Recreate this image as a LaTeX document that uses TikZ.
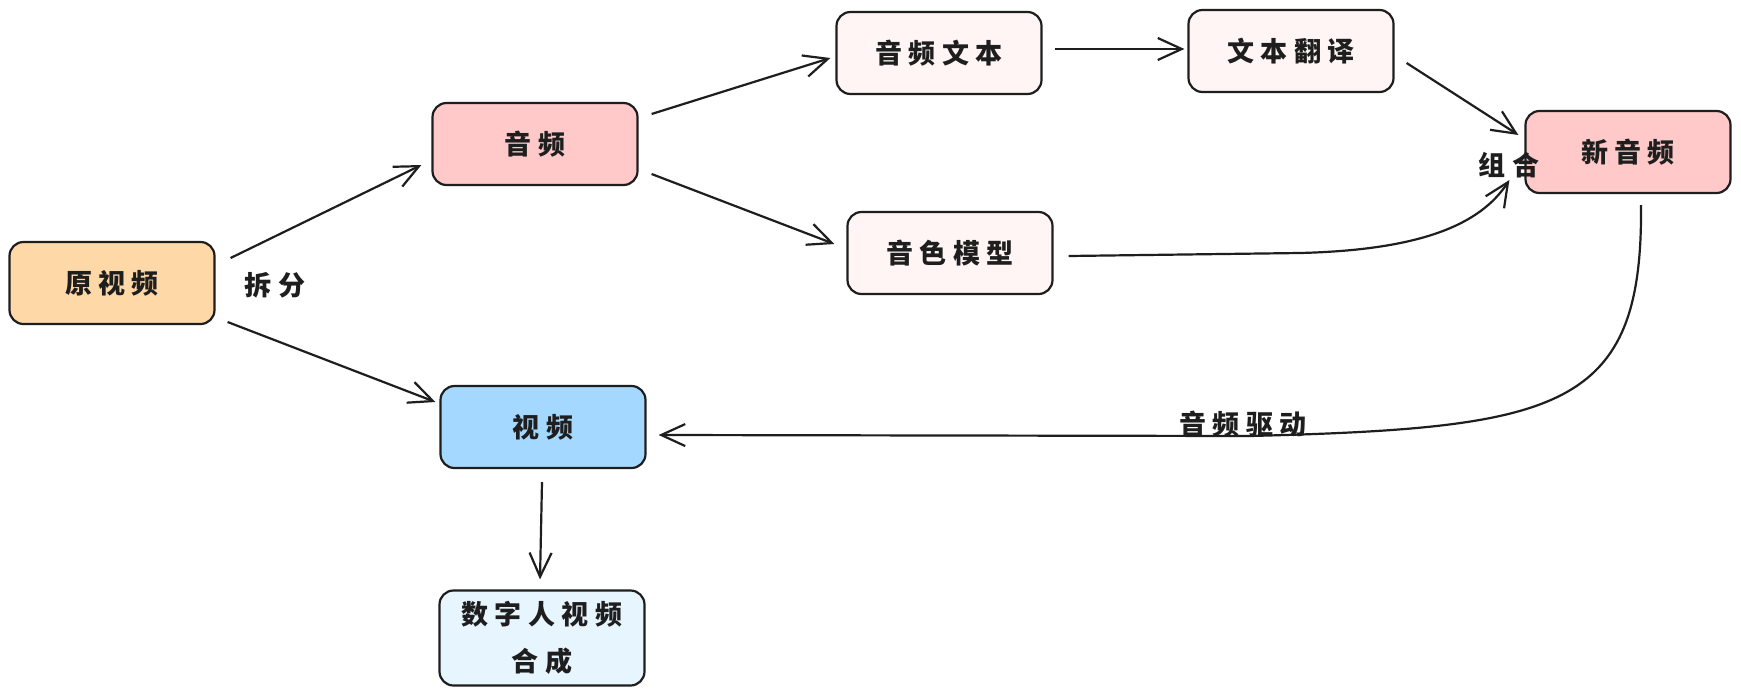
\documentclass[tikz,border=0pt]{standalone}
\usepackage{fontspec}
\setmainfont{Noto Sans CJK SC}[LetterSpace=24]
\usetikzlibrary{arrows.meta}
\definecolor{ink}{HTML}{1E1E1E}
\definecolor{orangefill}{HTML}{FFD8A8}
\definecolor{redfill}{HTML}{FFC9C9}
\definecolor{palered}{HTML}{FFF5F5}
\definecolor{bluefill}{HTML}{A5D8FF}
\definecolor{paleblue}{HTML}{E7F5FF}
\begin{document}
\begin{tikzpicture}[x=1pt,y=-1pt,
  box/.style={draw=ink, line width=2.2pt, rounded corners=14pt, minimum width=205pt, minimum height=82pt, inner sep=0pt, align=center, font=\fontsize{27}{47}\selectfont\bfseries, text=ink},
  lbl/.style={font=\fontsize{27}{32}\selectfont\bfseries, text=ink, inner sep=0pt},
  conn/.style={draw=ink, line width=2.2pt, -{Straight Barb[length=24pt,width=22pt,line width=2.2pt]}}]
\fill[white] (0,0) rectangle (1741,697);
\useasboundingbox (0,0) rectangle (1741,697);

\node[box, fill=orangefill] (ov) at (112,283) {原视频};
\node[box, fill=redfill] (au) at (535,144) {音频};
\node[box, fill=palered] (at) at (939,53) {音频文本};
\node[box, fill=palered] (tt) at (1291,51) {文本翻译};
\node[box, fill=redfill] (na) at (1628,152) {新音频};
\node[box, fill=palered] (tm) at (950,253) {音色模型};
\node[box, fill=bluefill] (vd) at (543,427) {视频};
\node[box, fill=paleblue, minimum height=95pt] (dh) at (542,638) {数字人视频\\合成};

\draw[conn] ([xshift=15pt,yshift=25pt]ov.east) -- ([xshift=-10pt,yshift=-21pt]au.west);
\draw[conn] ([xshift=12pt,yshift=-39pt]ov.east) -- ([xshift=-4pt,yshift=25pt]vd.west);
\draw[conn] ([xshift=13pt,yshift=30pt]au.east) -- ([xshift=-5pt,yshift=-5pt]at.west);
\draw[conn] ([xshift=13pt,yshift=-30pt]au.east) -- ([xshift=-12pt,yshift=9pt]tm.west);
\draw[conn] ([xshift=12pt,yshift=4pt]at.east) -- ([xshift=-3pt,yshift=2pt]tt.west);
\draw[conn] ([xshift=12pt,yshift=-12pt]tt.east) -- ([xshift=-6pt,yshift=17pt]na.west);
\draw[conn] ([xshift=15pt,yshift=-3pt]tm.east) -- (1300,253) .. controls (1420,250) and (1480,225) .. ([xshift=-15pt,yshift=-28pt]na.west);
\draw[conn] ([xshift=13pt,yshift=-11pt]na.south) .. controls (1643,410) and (1560,428) .. (1250,436) -- ([xshift=12pt,yshift=-8pt]vd.east);
\draw[conn] ([xshift=-1pt,yshift=-13pt]vd.south) -- ([xshift=-2pt,yshift=10pt]dh.north);

\node[lbl] (l1) at (275,285) {拆分};
\node[lbl] (l2) at (1509,165) {组合};
\node[lbl] (l3) at (1243,424) {音频驱动};
\end{tikzpicture}
\end{document}
